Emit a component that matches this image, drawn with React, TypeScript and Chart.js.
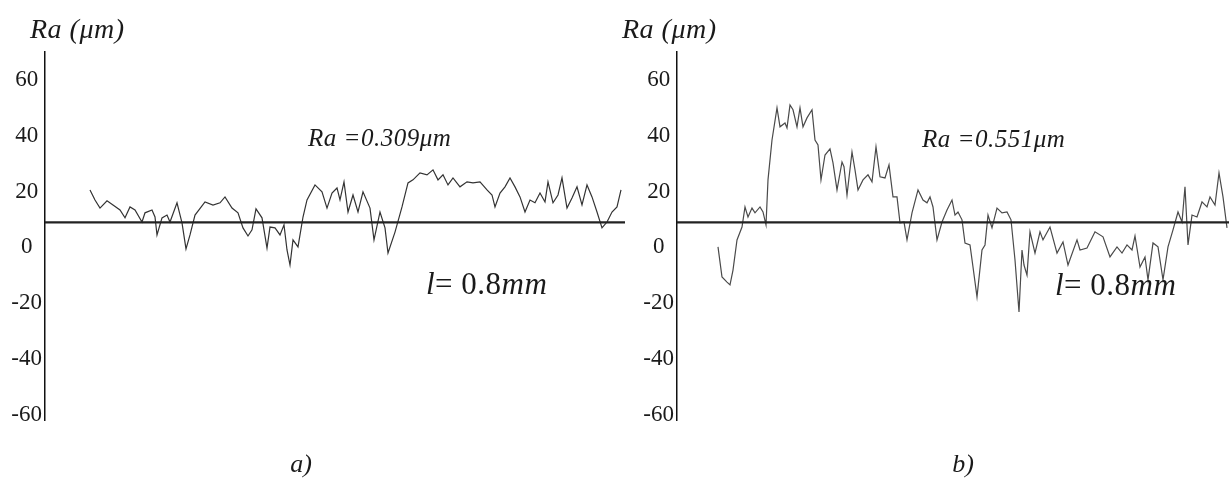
import React, { useEffect, useRef } from "react";
import { Chart, registerables } from "chart.js";

Chart.register(...registerables);

// ---- data ----
const Y_TICKS = [60, 40, 20, 0, -20, -40, -60];
const Y_MIN = -61.8;
const Y_MAX = 70;

// panel a) : position along profile (scale units) and profile height (µm scale)
const POS_A = [
  45, 50, 55, 62, 68, 75, 80, 85, 90, 97, 100, 107, 110, 112, 117, 122, 125, 132, 137, 141,
  145, 150, 160, 168, 175, 180, 187, 193, 198, 203, 207, 211, 217, 222, 225, 230, 235, 239, 242, 245,
  248, 253, 258, 262, 270, 277, 282, 287, 292, 295, 299, 303, 308, 313, 318, 325, 329, 335, 340, 343,
  350, 357, 363, 368, 375, 382, 388, 393, 398, 403, 408, 415, 422, 428, 435, 442, 447, 450, 455, 460,
  465, 470, 475, 480, 485, 490, 495, 500, 503, 508, 513, 517, 522, 527, 532, 537, 542, 547, 552, 557,
  562, 567, 572, 576,
];
const RA_A = [
  20.6, 17, 14.1, 16.7, 15.2, 13.4, 10.6, 14.5, 13.4, 9.1, 12.4, 13.4, 10.9, 4.5, 10.6, 11.6, 9.1, 16.0, 8.8, -0.5,
  4.5, 11.6, 16.3, 15.2, 16.0, 18.1, 14.1, 12.4, 7.0, 4.1, 6.3, 13.8, 10.6, -0.2, 7.3, 7.0, 4.5, 8.1, -0.9, -6.3,
  2.7, 0.2, 10.9, 17, 22.4, 19.9, 14.1, 19.5, 21.3, 17, 23.5, 12.7, 18.8, 12.7, 19.9, 14.1, 2.7, 12.7, 7.0, -2.0,
  5.5, 14.5, 23.1, 24.2, 26.7, 26, 27.8, 24.2, 26, 22.4, 24.9, 21.7, 23.5, 23.1, 23.5, 20.6, 18.8, 14.5, 19.5, 21.7,
  24.9, 21.7, 18.1, 12.7, 17, 16, 19.5, 16.3, 23.5, 16, 18.8, 24.9, 14.1, 17.7, 21.7, 15.2, 22.4, 18.1, 12.7, 7.0,
  9.1, 12.7, 14.5, 20.6,
];
const MEAN_A = 9;
const LEN_A = 580;

// panel b)
const POS_B = [
  41, 45, 50, 53, 56, 60, 65, 68, 71, 75, 78, 83, 86, 89, 91, 95, 100, 103, 108, 110,
  113, 116, 120, 123, 126, 130, 135, 138, 141, 144, 148, 153, 156, 160, 165, 167, 170, 175, 178, 181,
  186, 191, 195, 199, 203, 208, 212, 216, 220, 223, 227, 230, 235, 241, 246, 250, 253, 256, 260, 265,
  270, 275, 278, 281, 285, 288, 293, 296, 300, 305, 308, 311, 315, 320, 325, 330, 334, 338, 342, 345,
  347, 350, 353, 358, 363, 366, 373, 380, 386, 391, 400, 403, 410, 418, 426, 433, 440, 445, 450, 455,
  458, 463, 468, 471, 476, 481, 486, 491, 496, 501, 505, 508, 511, 515, 520, 525, 530, 533, 538, 542,
  546, 550,
];
const RA_B = [
  0.2, -10.6, -12.4, -13.4, -8.1, 2.7, 7.3, 14.5, 10.9, 14.1, 12.4, 14.5, 12.7, 8.1, 24.2, 38.5, 50, 43.2, 44.6, 42.8,
  51, 49.3, 43.2, 50, 43.2, 46.4, 49.3, 38.5, 36.7, 24.2, 33.1, 35.3, 30.3, 20.6, 30.6, 28.9, 18.8, 34.2, 27.8, 20.6,
  24.2, 26, 23.5, 36, 25.3, 24.9, 29.6, 18.1, 18.1, 8.8, 9.1, 2.7, 12.4, 20.6, 17, 16, 18.1, 14.5, 2.7, 9.1,
  13.4, 17, 11.6, 12.7, 9.9, 1.6, 0.9, -7, -17.7, -0.9, 0.9, 11.6, 7, 14.1, 12.4, 12.7, 9.9, -4.5, -23.1, -0.9,
  -6.3, -9.9, 5.6, -2.0, 5.6, 2.7, 7.3, -2, 2, -6.3, 2.7, -0.9, -0.2, 5.6, 3.8, -3.4, 0.2, -2.0, 0.9, -0.9,
  4.1, -7, -3.4, -11.6, 1.6, 0.2, -11.6, 0.2, 6.3, 12.7, 9.1, 21.7, 0.9, 11.6, 10.9, 16.3, 14.5, 18.1, 15.2, 26.7,
  18.1, 7,
];
const MEAN_B = 9;
const LEN_B = 552;

const SERIF = "'Liberation Serif', 'Times New Roman', serif";

type Seg = { text: string; italic?: boolean };
type Item = { x: number; y: number; size: number; segs: Seg[]; align?: "left" | "center"; spacing?: number };

const textPlugin = {
  id: "panelText",
  afterDraw(chart: any, _args: any, opts: any) {
    const ctx: CanvasRenderingContext2D = chart.ctx;
    const items: Item[] = opts.items || [];
    ctx.save();
    ctx.fillStyle = "#1a1a1a";
    ctx.textBaseline = "middle";
    ctx.textAlign = "left";
    for (const it of items) {
      (ctx as any).letterSpacing = (it.spacing || 0) + "px";
      const fontOf = (s: Seg) => `${s.italic ? "italic " : ""}${it.size}px ${SERIF}`;
      let total = 0;
      for (const s of it.segs) {
        ctx.font = fontOf(s);
        total += ctx.measureText(s.text).width;
      }
      let x = it.align === "center" ? it.x - total / 2 : it.x;
      for (const s of it.segs) {
        ctx.font = fontOf(s);
        ctx.fillText(s.text, x, it.y);
        x += ctx.measureText(s.text).width;
      }
    }
    ctx.restore();
  },
};

function makeConfig(pos: number[], ra: number[], mean: number, len: number, axisW: number, padRight: number, color: string, items: Item[]) {
  const profile = pos.map((p, i) => ({ x: p, y: ra[i] }));
  const meanLine = [
    { x: 0, y: mean },
    { x: len, y: mean },
  ];
  return {
    type: "line",
    data: {
      datasets: [
        { data: meanLine, borderColor: "#222", borderWidth: 2.2, pointRadius: 0, tension: 0 },
        { data: profile, borderColor: color, borderWidth: 1.2, pointRadius: 0, tension: 0 },
      ],
    },
    options: {
      animation: false,
      responsive: false,
      events: [],
      layout: { padding: { top: 52, bottom: 64, left: 0, right: padRight } },
      plugins: { legend: { display: false }, tooltip: { enabled: false }, panelText: { items } },
      scales: {
        x: { type: "linear", display: false, min: 0, max: len },
        y: {
          type: "linear",
          min: Y_MIN,
          max: Y_MAX,
          grid: { display: false, drawTicks: false },
          border: { display: true, color: "#111", width: 1.5 },
          afterBuildTicks: (s: any) => {
            s.ticks = Y_TICKS.map((v) => ({ value: v }));
          },
          afterFit: (s: any) => {
            s.width = axisW;
          },
          ticks: {
            crossAlign: "center",
            padding: 3,
            color: "#1a1a1a",
            font: { family: SERIF, size: 23 },
            callback: (v: any) => String(v),
          },
        },
      },
    },
    plugins: [textPlugin],
  };
}

function Panel({ left, width, config }: { left: number; width: number; config: any }) {
  const ref = useRef<HTMLCanvasElement>(null);
  useEffect(() => {
    const chart = new Chart(ref.current as HTMLCanvasElement, config);
    return () => chart.destroy();
  }, []);
  return (
    <canvas
      ref={ref}
      width={width}
      height={484}
      style={{ position: "absolute", left, top: 0, width, height: 484 }}
    />
  );
}

export default function App() {
  const itemsA: Item[] = [
    { x: 30, y: 31, size: 28, spacing: 0.5, segs: [{ text: "Ra (μm)", italic: true }] },
    { x: 308, y: 139, size: 25, spacing: 0.5, segs: [{ text: "Ra =0.309μm", italic: true }] },
    { x: 426, y: 286, size: 31, spacing: 0.5, segs: [{ text: "l", italic: true }, { text: "= 0.8" }, { text: "mm", italic: true }] },
    { x: 301, y: 465, size: 26, align: "center", segs: [{ text: "a)", italic: true }] },
  ];
  const itemsB: Item[] = [
    { x: 10, y: 31, size: 28, spacing: 0.5, segs: [{ text: "Ra (μm)", italic: true }] },
    { x: 310, y: 140, size: 25, spacing: 0.5, segs: [{ text: "Ra =0.551μm", italic: true }] },
    { x: 443, y: 287, size: 31, spacing: 0.5, segs: [{ text: "l", italic: true }, { text: "= 0.8" }, { text: "mm", italic: true }] },
    { x: 351, y: 465, size: 26, align: "center", segs: [{ text: "b)", italic: true }] },
  ];
  const cfgA = makeConfig(POS_A, RA_A, MEAN_A, LEN_A, 45, 15, "#333", itemsA);
  const cfgB = makeConfig(POS_B, RA_B, MEAN_B, LEN_B, 65, 0, "#4a4a4a", itemsB);
  return (
    <div style={{ position: "fixed", left: 0, top: 0, width: 1229, height: 484, background: "#fff", overflow: "hidden" }}>
      <Panel left={0} width={640} config={cfgA} />
      <Panel left={612} width={617} config={cfgB} />
    </div>
  );
}
